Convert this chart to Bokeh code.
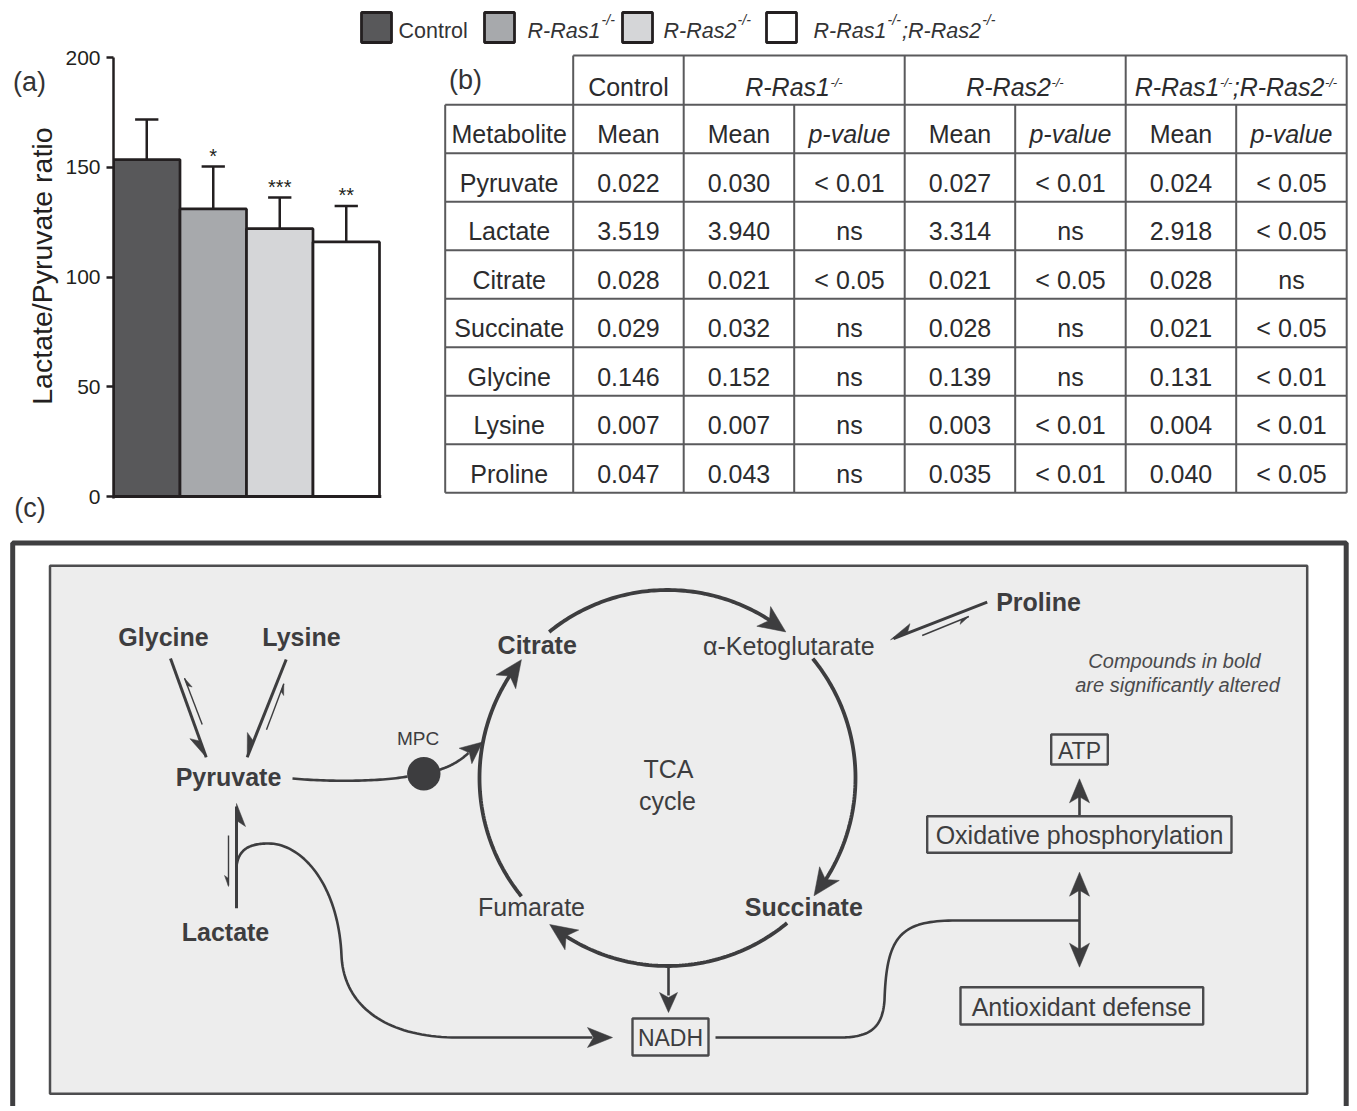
import numpy as np
from bokeh.plotting import figure
from bokeh.layouts import column
from bokeh.models import Range1d, FixedTicker, Span, GridBox
from bokeh.core.properties import value
from bokeh.embed import file_html
from bokeh.resources import INLINE

# ------------------------------------------------------------------ data
groups = ["Control", "R-Ras1-/-", "R-Ras2-/-", "R-Ras1-/-;R-Ras2-/-"]
lp_ratio_mean = [153.5, 131.0, 122.0, 116.0]
lp_ratio_sem = [18.3, 19.3, 14.2, 16.4]
lp_significance = ["", "*", "***", "**"]
lp_ticks = [0, 50, 100, 150, 200]
lp_axis_label = "Lactate/Pyruvate ratio"

metabolites = ["Pyruvate", "Lactate", "Citrate", "Succinate", "Glycine", "Lysine", "Proline"]
mean_control = [0.022, 3.519, 0.028, 0.029, 0.146, 0.007, 0.047]
mean_ras1 = [0.030, 3.940, 0.021, 0.032, 0.152, 0.007, 0.043]
p_ras1 = ["< 0.01", "ns", "< 0.05", "ns", "ns", "ns", "ns"]
mean_ras2 = [0.027, 3.314, 0.021, 0.028, 0.139, 0.003, 0.035]
p_ras2 = ["< 0.01", "ns", "< 0.05", "ns", "ns", "< 0.01", "< 0.01"]
mean_dko = [0.024, 2.918, 0.028, 0.021, 0.131, 0.004, 0.040]
p_dko = ["< 0.05", "< 0.05", "ns", "< 0.05", "< 0.01", "< 0.01", "< 0.05"]
sub_headers = ["Metabolite", "Mean", "Mean", "p-value", "Mean", "p-value", "Mean", "p-value"]

panel_labels = ["(a)", "(b)", "(c)"]
note_lines = ["Compounds in bold", "are significantly altered"]

# ------------------------------------------------------------------ style
FONT = "Liberation Sans"
INK = "#231f20"
TXT = "#2b2b2d"
DG = "#3d3d3f"
BOX = "#4a4a4c"
BAR_FILL = ["#58585a", "#a7a9ac", "#d5d6d8", "#ffffff"]
W, H = 1350, 1106

ARIAL = {'R': 722, '-': 333, 'a': 556, 's': 500, '1': 556, '2': 556, '/': 278, ';': 278,
         'C': 722, 'o': 556, 'n': 556, 't': 278, 'r': 333, 'l': 222}


def text_w(s, size):
    return sum(ARIAL.get(c, 556) for c in s) * size / 1000.0


def split_genotype(label):
    if "-/-" not in label:
        return [(label, False)]
    parts = label.split("-/-")
    out = []
    for seg in parts[:-1]:
        out.append((seg, False))
        out.append(("-/-", True))
    if parts[-1]:
        out.append((parts[-1], False))
    return out


# ------------------------------------------------------------------ page canvas (data coords = page px)
pg = figure(width=W, height=H, x_range=Range1d(0, W), y_range=Range1d(H, 0),
            x_axis_type=None, y_axis_type=None, output_backend="svg",
            toolbar_location=None, tools="", min_border=0, title=None)
pg.outline_line_color = None
pg.background_fill_color = "white"
pg.border_fill_color = "white"


def put(x, baseline, t, size, style="normal", color=DG, align="center"):
    pg.text(x=[x], y=[baseline - 0.358 * size], text=[t], text_font=value(FONT),
            text_font_size=f"{size}px", text_font_style=style, text_color=color,
            text_align=align, text_baseline="middle")


def label(x, yc, t, size, style="normal", color=DG, align="center"):
    put(x, yc + 0.358 * size, t, size, style, color, align)


def rich_width(pieces, size, sup_size, gap):
    return sum(text_w(t, sup_size) + gap if sup else text_w(t, size) for t, sup in pieces)


def rich_text(pieces, x, baseline, size, sup_size, raise_px, italic, color, gap=1.5):
    cur = x
    style = "italic" if italic else "normal"
    for t, sup in pieces:
        if sup:
            put(cur + gap * 0.5, baseline - raise_px, t, sup_size, style, color, "left")
            cur += text_w(t, sup_size) + gap
        else:
            put(cur, baseline, t, size, style, color, "left")
            cur += text_w(t, size)


# ------------------------------------------------------------------ legend
sq_left = [361, 484, 622, 766]
txt_left = [398, 527, 663, 813]
pg.quad(left=sq_left, right=[s + 30 for s in sq_left], top=[12] * 4, bottom=[42] * 4,
        fill_color=BAR_FILL, line_color=INK, line_width=2.8)
for g, tx in zip(groups, txt_left):
    rich_text(split_genotype(g), tx, 38.3, 21.5, 14, 14, "R-Ras" in g, "#333335", gap=2.5)

put(29, 91, panel_labels[0], 27, color="#333335")

# ------------------------------------------------------------------ (b) table
x_edges = [444.7, 572.7]
for _ in range(7):
    x_edges.append(x_edges[-1] + 110.5)
y_edges = [55, 104.3]
for _ in range(len(metabolites) + 1):
    y_edges.append(y_edges[-1] + 48.5)
GRID = "#5a5a5c"
pg.segment(x0=[x_edges[1]], y0=[y_edges[0]], x1=[x_edges[-1]], y1=[y_edges[0]], line_color=GRID, line_width=2)
nh = len(y_edges) - 1
pg.segment(x0=[x_edges[0]] * nh, y0=y_edges[1:], x1=[x_edges[-1]] * nh, y1=y_edges[1:],
           line_color=GRID, line_width=2)
full_cols = [x_edges[i] for i in (1, 2, 4, 6, 8)]
half_cols = [x_edges[0]] + [x_edges[i] for i in (3, 5, 7)]
pg.segment(x0=full_cols, y0=[y_edges[0]] * len(full_cols), x1=full_cols, y1=[y_edges[-1]] * len(full_cols),
           line_color=GRID, line_width=2)
pg.segment(x0=half_cols, y0=[y_edges[1]] * len(half_cols), x1=half_cols, y1=[y_edges[-1]] * len(half_cols),
           line_color=GRID, line_width=2)

TS = 25
spans = [(1, 2), (2, 4), (4, 6), (6, 8)]
for g, (a, b) in zip(groups, spans):
    pieces = split_genotype(g)
    w = rich_width(pieces, TS, 13, 1.0)
    cx = (x_edges[a] + x_edges[b]) / 2
    rich_text(pieces, cx - w / 2, y_edges[1] - 9.3, TS, 13, 8.5, "R-Ras" in g, TXT, gap=1.0)
put(465, 89.5, panel_labels[1], 27, color="#333335")

col_cx = [(x_edges[i] + x_edges[i + 1]) / 2 for i in range(8)]
sub_y = (y_edges[1] + y_edges[2]) / 2 + 5
for cx, h in zip(col_cx, sub_headers):
    label(cx, sub_y, h, TS, style="italic" if h.startswith("p-") else "normal", color=TXT)

columns = [metabolites,
           [f"{v:.3f}" for v in mean_control],
           [f"{v:.3f}" for v in mean_ras1], p_ras1,
           [f"{v:.3f}" for v in mean_ras2], p_ras2,
           [f"{v:.3f}" for v in mean_dko], p_dko]
row_cy = [(y_edges[i] + y_edges[i + 1]) / 2 + 5 for i in range(2, len(y_edges) - 1)]
for cx, col in zip(col_cx, columns):
    pg.text(x=[cx] * len(col), y=row_cy, text=col, text_font=value(FONT),
            text_font_size=f"{TS}px", text_align="center", text_baseline="middle", text_color=TXT)

# ------------------------------------------------------------------ (c) pathway diagram
put(29.5, 517.3, panel_labels[2], 27, color="#333335")
pg.quad(left=[12.2], right=[1345.7], top=[542.5], bottom=[1125], fill_color=None,
        line_color="#3f3f41", line_width=5)
pg.quad(left=[49.5], right=[1306.7], top=[565.3], bottom=[1093.3], fill_color="#ededed",
        line_color="#4d4d4f", line_width=2.5)


def unit(d):
    d = np.asarray(d, float)
    return d / np.hypot(d[0], d[1])


def head(tip, d, L=24, Wd=11, notch=6):
    d = unit(d)
    n = np.array([-d[1], d[0]])
    T = np.asarray(tip, float)
    B = T - L * d
    pts = [T, B + Wd * n, B + notch * d, B - Wd * n]
    pg.patch([q[0] for q in pts], [q[1] for q in pts], fill_color=DG, line_color=DG, line_width=0.5)


def harpoon(tip, d, L=23, Wd=9, notch=6):
    d = unit(d)
    n = np.array([-d[1], d[0]])
    T = np.asarray(tip, float)
    B = T - L * d
    pts = [T, B + Wd * n, B + notch * d]
    pg.patch([q[0] for q in pts], [q[1] for q in pts], fill_color=DG, line_color=DG, line_width=0.5)


def bez(p0, p1, p2, p3, n=40):
    t = np.linspace(0, 1, n)[:, None]
    P = [np.asarray(q, float) for q in (p0, p1, p2, p3)]
    pts = (1 - t) ** 3 * P[0] + 3 * (1 - t) ** 2 * t * P[1] + 3 * (1 - t) * t ** 2 * P[2] + t ** 3 * P[3]
    return list(pts[:, 0]), list(pts[:, 1])


def path(segs, width=2.6):
    xs, ys = [], []
    for s in segs:
        if len(s) == 2:
            xs += [s[0][0], s[1][0]]
            ys += [s[0][1], s[1][1]]
        else:
            bx_, by_ = bez(*s)
            xs += bx_
            ys += by_
    pg.line(xs, ys, line_color=DG, line_width=width, line_join="round", line_cap="butt")


def straight(a, b, width=3.0):
    pg.line([a[0], b[0]], [a[1], b[1]], line_color=DG, line_width=width)


CX, CY, R = 667, 777.5, 188
arcs = [(129, 51), (39.4, -38.8), (-50.5, -128.8), (219, 141)]


def on_circle(a):
    r = np.radians(a)
    return np.array([CX + R * np.cos(r), CY - R * np.sin(r)])


for a0, a1 in arcs:
    back = np.degrees(18 / R)
    ang = np.radians(np.linspace(a0, a1 + back, 80))
    pg.line(CX + R * np.cos(ang), CY - R * np.sin(ang), line_color=DG, line_width=3.8)
    tip = on_circle(a1)
    prev = on_circle(a1 + np.degrees(26 / R))
    head(tip, tip - prev, L=27, Wd=12, notch=7)

straight((170, 658), (205.7, 756.7))
harpoon((205.7, 756.7), (35.7, 98.7))
straight((201.7, 724), (184, 677.7), 1.4)
harpoon((184, 677.7), (-17.7, -46.3), L=11, Wd=4, notch=3)
straight((285.7, 659), (246.7, 756.7))
harpoon((246.7, 756.7), (-39, 97.7))
straight((266, 729.3), (283.3, 683.3), 1.4)
harpoon((283.3, 683.3), (17.3, -46), L=11, Wd=4, notch=3)
straight((236, 907.7), (236, 806))
harpoon((236, 803), (0, -1))
straight((228, 835), (228, 885), 1.4)
harpoon((228, 886), (0, 1), L=11, Wd=4, notch=3)
straight((986.7, 601.7), (893, 638.2))
harpoon((890, 639.3), (-96.7, 37.6), L=24, Wd=8)
straight((921.7, 635), (968.3, 616), 1.4)
harpoon((968.3, 616), (46.6, -19), L=11, Wd=4, notch=3)

path([((292, 778), (330, 781.5), (380, 781), (407, 776))])
pg.circle(x=[423.3], y=[773.3], radius=16.7, fill_color=DG, line_color=None)
path([((438, 769.5), (450, 766), (460, 760), (468, 752.5))])
head((482, 741.5), (14, -11.5), L=22, Wd=10, notch=5)

path([((236, 866), (238, 848), (250, 843), (268, 843)),
      ((268, 843), (302, 843), (338, 885), (341, 955)),
      ((341, 955), (343, 1005), (385, 1037), (457, 1037)),
      ((457, 1037), (592, 1037))])
head((612, 1037), (1, 0), L=25, Wd=10, notch=6)

straight((668, 965), (668, 995), 2.6)
head((668, 1012), (0, 1), L=20, Wd=9, notch=5)

path([((715, 1037), (840, 1037)),
      ((840, 1037), (872, 1037), (882, 1025), (884, 1000)),
      ((884, 1000), (886, 935), (900, 920), (956, 920)),
      ((956, 920), (1079, 920))])
straight((1079, 885), (1079, 952), 2.6)
head((1079, 871.7), (0, -1), L=24, Wd=10, notch=6)
head((1079, 966.7), (0, 1), L=24, Wd=10, notch=6)
straight((1079, 815), (1079, 795), 2.6)
head((1079, 778.3), (0, -1), L=24, Wd=10, notch=6)

boxes = [(632, 708, 1018, 1055), (1050.7, 1107.3, 734, 764), (926.7, 1231, 815.7, 852.3),
         (960, 1202.7, 986.7, 1024)]
pg.quad(left=[b[0] for b in boxes], right=[b[1] for b in boxes], top=[b[2] for b in boxes],
        bottom=[b[3] for b in boxes], fill_color=None, line_color=BOX, line_width=2.4)

altered = {m for m, a, b, c in zip(metabolites, p_ras1, p_ras2, p_dko) if any(v != "ns" for v in (a, b, c))}
nodes = [("Glycine", 163, 636), ("Lysine", 301, 636), ("Pyruvate", 228, 776.5), ("Lactate", 225, 931),
         ("Citrate", 536.7, 644), ("α-Ketoglutarate", 788.3, 645), ("Succinate", 803.3, 906),
         ("Fumarate", 531, 906), ("Proline", 1038, 601)]
for name, x, y in nodes:
    label(x, y, name, 25, style="bold" if name in altered else "normal")
label(668, 768, "TCA", 25)
label(667, 800, "cycle", 25)
label(417.5, 737.5, "MPC", 19)
label(670, 1037, "NADH", 23)
label(1079, 750, "ATP", 23)
label(1079, 834, "Oxidative phosphorylation", 25)
label(1081, 1006, "Antioxidant defense", 25)
label(1174, 660, note_lines[0], 20, style="italic", color="#4a4a4c")
label(1177, 684, note_lines[1], 20, style="italic", color="#4a4a4c")

# ------------------------------------------------------------------ (a) bar chart (transparent overlay)
N = len(groups)
bx = np.arange(N) + 0.5
upper = np.array(lp_ratio_mean) + np.array(lp_ratio_sem)
pa = figure(width=440, height=512, x_range=Range1d(0, N + 0.03), y_range=Range1d(-0.9, 200),
            output_backend="svg", toolbar_location=None, tools="", title=None,
            min_border_left=113, min_border_right=59, min_border_top=57, min_border_bottom=14)
pa.outline_line_color = None
pa.background_fill_color = None
pa.border_fill_color = None
pa.xgrid.visible = False
pa.ygrid.visible = False
pa.xaxis.visible = False
pa.vbar(x=bx, top=lp_ratio_mean, bottom=0, width=1.0, fill_color=BAR_FILL,
        line_color=INK, line_width=2.7)
pa.segment(x0=bx, y0=lp_ratio_mean, x1=bx, y1=upper, line_color=INK, line_width=2.5)
pa.segment(x0=bx - 0.175, y0=upper, x1=bx + 0.175, y1=upper, line_color=INK, line_width=2.5)
pa.text(x=bx, y=upper + 5.0, text=lp_significance, text_font=value(FONT), text_font_size="20px",
        text_align="center", text_baseline="middle", text_color=INK)
pa.add_layout(Span(location=0, dimension="width", line_color=INK, line_width=3))
ya = pa.yaxis[0]
ya.ticker = FixedTicker(ticks=lp_ticks)
ya.minor_tick_line_color = None
ya.major_tick_in = 0
ya.major_tick_out = 7
ya.major_tick_line_width = 2.5
ya.major_tick_line_color = INK
ya.axis_line_width = 2.5
ya.axis_line_color = INK
ya.major_label_text_font = FONT
ya.major_label_text_font_size = "21px"
ya.major_label_text_color = INK
ya.major_label_standoff = 6
ya.axis_label = "\u00a0\u00a0\u00a0" + lp_axis_label
ya.axis_label_text_font = FONT
ya.axis_label_text_font_size = "28.5px"
ya.axis_label_text_font_style = "normal"
ya.axis_label_text_color = INK
ya.axis_label_standoff = 4

page = GridBox(children=[(column(pg), 0, 0), (column(pa), 0, 0)])
open("out.html", "w").write(file_html(page, INLINE))
